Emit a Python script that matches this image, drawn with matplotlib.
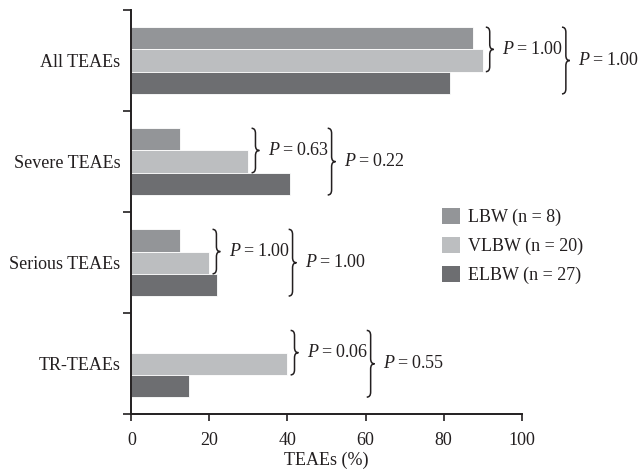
import numpy as np
import matplotlib
matplotlib.use("Agg")
import matplotlib.pyplot as plt
from matplotlib.path import Path
from matplotlib.patches import PathPatch, Patch

plt.rcParams['font.family'] = ['Liberation Serif', 'DejaVu Serif']
plt.rcParams['mathtext.fontset'] = 'custom'
plt.rcParams['mathtext.rm'] = 'Liberation Serif'
plt.rcParams['mathtext.it'] = 'Liberation Serif:italic'

# data
categories = ['All TEAEs', 'Severe TEAEs', 'Serious TEAEs', 'TR-TEAEs']
groups = ['LBW (n = 8)', 'VLBW (n = 20)', 'ELBW (n = 27)']
lbw = [87.5, 12.5, 12.5, 0.0]
vlbw = [90.0, 30.0, 20.0, 40.0]
elbw = [81.5, 40.7, 22.0, 14.8]
p_lbw_vlbw = ['1.00', '0.63', '1.00', '0.06']
p_all = ['1.00', '0.22', '1.00', '0.55']

colors = ['#939598', '#bcbec0', '#6d6e71']
ink = '#231f20'
FS = 13


def brace(ax, x0, y0, y1, w=2.0, r=0.05):
    # right-facing curly brace from y0 (top) to y1 (bottom), data coords
    ym = (y0 + y1) / 2.0
    xm = x0 + w / 2.0
    verts = [(x0, y0), (xm, y0), (xm, y0 + r), (xm, ym - r), (xm, ym), (x0 + w, ym),
             (xm, ym), (xm, ym + r), (xm, y1 - r), (xm, y1), (x0, y1)]
    codes = [Path.MOVETO, Path.CURVE3, Path.CURVE3, Path.LINETO, Path.CURVE3, Path.CURVE3,
             Path.CURVE3, Path.CURVE3, Path.LINETO, Path.CURVE3, Path.CURVE3]
    ax.add_patch(PathPatch(Path(verts, codes), fill=False, lw=1.1, ec=ink, clip_on=False))


def ptext(p):
    return '$P$\u2009=\u2009' + p


fig = plt.figure(figsize=(6.39, 4.69), dpi=100)
ax = fig.add_axes([0.2055, 0.1166, 0.611, 0.8621])

y = np.arange(len(categories))
h = 0.22
series = [lbw, vlbw, elbw]
for i, vals in enumerate(series):
    ax.barh(y + (i - 1) * h, vals, height=h, color=colors[i], edgecolor='white',
            linewidth=0.6, label=groups[i])

ax.set_xlim(0, 100)
ax.set_ylim(3.5, -0.5)
ax.set_xticks([0, 20, 40, 60, 80, 100])
ax.set_yticks(np.arange(-0.5, 4, 1.0))
ax.set_yticklabels([])
ax.set_yticks(y, minor=True)
ax.set_yticklabels(categories, minor=True)
ax.tick_params(axis='y', which='minor', length=0, pad=8, labelsize=FS, colors=ink)
ax.tick_params(axis='y', which='major', length=6, width=1.2, direction='out', color=ink)
ax.tick_params(axis='x', length=5, width=1.2, direction='out', labelsize=FS, pad=8,
               colors=ink)
for s in ['top', 'right']:
    ax.spines[s].set_visible(False)
for s in ['left', 'bottom']:
    ax.spines[s].set_linewidth(1.4)
    ax.spines[s].set_color(ink)
ax.set_xlabel('TEAEs (%)', fontsize=FS, color=ink, labelpad=2)

# braces with P values
for k in range(len(categories)):
    xb = max(lbw[k], vlbw[k]) + 0.8
    brace(ax, xb, k - 1.5 * h, k + 0.5 * h)
    ax.text(xb + 4.1, k - 0.5 * h, ptext(p_lbw_vlbw[k]), fontsize=FS, color=ink,
            va='center', ha='left', clip_on=False)
    xb2 = xb + 19.5
    brace(ax, xb2, k - 1.5 * h, k + 1.5 * h)
    ax.text(xb2 + 4.2, k, ptext(p_all[k]), fontsize=FS, color=ink,
            va='center', ha='left', clip_on=False)

handles = [Patch(facecolor=c, edgecolor='none') for c in colors]
fig.legend(handles, groups, loc='upper left', bbox_to_anchor=(442 / 639, 1 - 208 / 469),
           frameon=False, fontsize=FS, handlelength=1.0, handleheight=1.0,
           handletextpad=0.45, labelspacing=0.58, borderpad=0, borderaxespad=0,
           labelcolor=ink)

fig.savefig('out.png', dpi=100)
